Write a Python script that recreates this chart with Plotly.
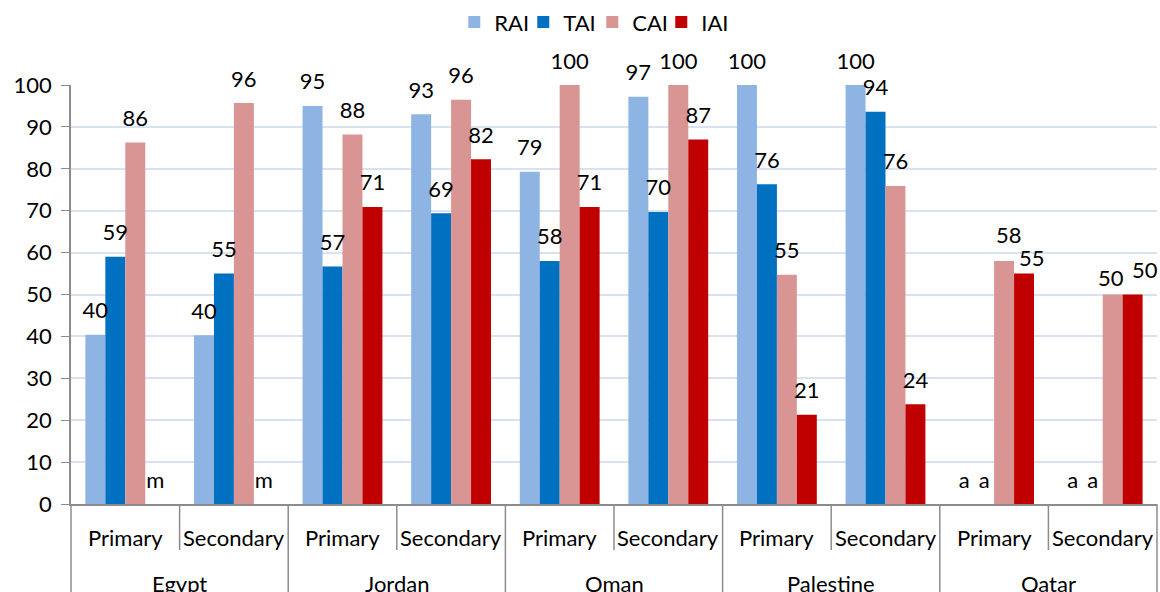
import plotly.graph_objects as go

countries = ["Egypt", "Egypt", "Jordan", "Jordan", "Oman", "Oman",
             "Palestine", "Palestine", "Qatar", "Qatar"]
levels = ["Primary", "Secondary"] * 5

series_names = ["RAI", "TAI", "CAI", "IAI"]
colors = ["#8EB4E3", "#0070C0", "#D99594", "#C00000"]

RAI = [40.4, 40.3, 95.0, 93.0, 79.3, 97.2, 100.0, 100.0, None, None]
TAI = [59.0, 55.0, 56.7, 69.4, 58.0, 69.7, 76.3, 93.6, None, None]
CAI = [86.3, 95.7, 88.2, 96.5, 100.0, 100.0, 54.7, 75.9, 58.0, 50.0]
IAI = [None, None, 70.9, 82.3, 70.9, 87.0, 21.3, 23.8, 55.0, 50.0]

# codes shown where no value exists (m = missing, a = not applicable)
RAI_codes = [None] * 8 + ["a", "a"]
TAI_codes = [None] * 8 + ["a", "a"]
CAI_codes = [None] * 10
IAI_codes = ["m", "m"] + [None] * 8

all_values = [RAI, TAI, CAI, IAI]
all_codes = [RAI_codes, TAI_codes, CAI_codes, IAI_codes]

font_family = "Lato, Carlito, Calibri, sans-serif"
FS = 22
GREY = "#8C8C8C"
GAP = 0.265
n = len(levels)
n_series = len(series_names)

# labels nudged apart (pixel offsets) where two neighbours would collide
NUDGE = {("CAI", 8): (5, 11), ("IAI", 8): (8, 1),
         ("CAI", 9): (-2, 2), ("IAI", 9): (12, 10)}

fig = go.Figure()
for name, color, vals in zip(series_names, colors, all_values):
    y = [v if v is not None else 0 for v in vals]
    fig.add_trace(go.Bar(
        x=[countries, levels], y=y, name=name, offsetgroup=name,
        marker=dict(color=color, line=dict(width=0)),
        hovertemplate="%{x}<br>" + name + ": %{y}<extra></extra>",
    ))

annotations = []
# value labels: text-only scatter traces grouped like the bars
for k, (name, vals, codes) in enumerate(zip(series_names, all_values, all_codes)):
    y = [v if v is not None else 0 for v in vals]
    text = [f"{v:.0f}" if v is not None else (c or "") for v, c in zip(vals, codes)]
    shown = []
    for i, t in enumerate(text):
        if (name, i) in NUDGE:
            dx, dy = NUDGE[(name, i)]
            xc = (i + 0.5 + (k - (n_series - 1) / 2) * (1 - GAP) / n_series) / n
            annotations.append(dict(
                x=xc, y=y[i], xref="paper", yref="y", text=t, showarrow=False,
                xanchor="center", yanchor="bottom", xshift=dx, yshift=dy,
                font=dict(size=FS, color="#000000", family=font_family)))
            shown.append("")
        else:
            shown.append(t)
    fig.add_trace(go.Scatter(
        x=[countries, levels], y=y, mode="markers+text", offsetgroup=name,
        marker=dict(size=16, color="rgba(0,0,0,0)"),
        text=shown, textposition="top center", cliponaxis=False,
        textfont=dict(size=FS, color="#000000", family=font_family),
        showlegend=False, hoverinfo="skip",
    ))

shapes = []
for i, lv in enumerate(levels):
    annotations.append(dict(
        x=(i + 0.5) / n, y=0, xref="paper", yref="paper", text=lv,
        showarrow=False, xanchor="center", yanchor="middle", yshift=-33,
        font=dict(size=FS, color="#000000", family=font_family)))
seen = []
for i, c in enumerate(countries):
    if c in seen:
        continue
    seen.append(c)
    span = countries.count(c)
    annotations.append(dict(
        x=(i + span / 2) / n, y=0, xref="paper", yref="paper", text=c,
        showarrow=False, xanchor="center", yanchor="middle", yshift=-79,
        font=dict(size=FS, color="#000000", family=font_family)))

for i in range(n + 1):
    x = i / n
    is_country_edge = i == 0 or i == n or countries[i] != countries[i - 1]
    y1 = -0.30 if is_country_edge else -0.11
    shapes.append(dict(type="line", xref="paper", yref="paper",
                       x0=x, x1=x, y0=0, y1=y1,
                       line=dict(color=GREY, width=1.5)))

fig.update_layout(
    width=1160, height=592,
    barmode="group", bargap=GAP, bargroupgap=0,
    scattermode="group", scattergap=GAP,
    plot_bgcolor="white", paper_bgcolor="white",
    margin=dict(l=71, r=3, t=85, b=88, autoexpand=False),
    font=dict(family=font_family, size=FS, color="#000000"),
    legend=dict(orientation="h", x=0.48, xanchor="center", y=1.15, yanchor="middle",
                font=dict(size=FS), entrywidth=24,
                entrywidthmode="pixels", traceorder="normal", itemwidth=30),
    annotations=annotations,
    shapes=shapes,
)

fig.update_yaxes(
    range=[0, 100], dtick=10, showgrid=True, gridcolor="#D9E2F1", gridwidth=1.5,
    showline=True, linecolor=GREY, linewidth=1.5,
    ticks="outside", ticklen=8, tickcolor=GREY, ticklabelstandoff=5,
    tickfont=dict(size=FS), zeroline=False, automargin=False,
)
fig.update_xaxes(
    type="multicategory", showline=True, linecolor=GREY, linewidth=1.5,
    showticklabels=False, ticks="", showdividers=False, automargin=False,
)

fig.write_html(
    "out.html",
    config={"displayModeBar": False},
    post_script="document.body.style.margin='0';document.body.style.overflow='hidden';",
)
